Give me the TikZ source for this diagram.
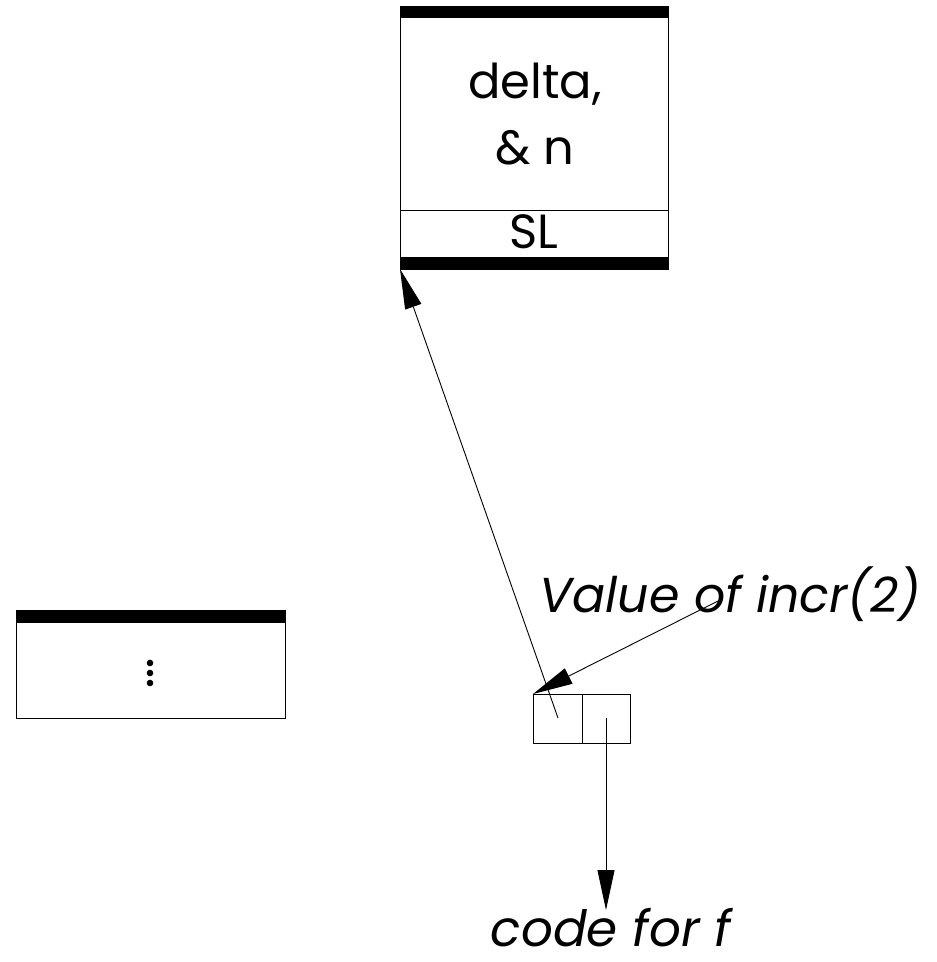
\documentclass[tikz,border=0pt]{standalone}
\usepackage{fontspec}
\setmainfont{Poppins}
\usetikzlibrary{arrows.meta}
\begin{document}
\begin{tikzpicture}[x=1pt,y=-1pt,
  wire/.style={line width=0.9pt},
  cell/.style={draw,wire,inner sep=0pt,outer sep=0pt,anchor=north west},
  ptr/.style={wire,-{Triangle[length=40pt,width=17pt]}},
  big/.style={font=\fontsize{48}{56}\selectfont,inner sep=0pt,anchor=base},
  note/.style={font=\itshape\fontsize{49}{56}\selectfont,inner sep=0pt,anchor=base}]
\useasboundingbox (0,0) rectangle (937,962);

% activation frame holding delta and n
\node[cell,minimum width=268pt,minimum height=263pt] (frame) at (400,6) {};
\fill (400,6) rectangle (668,18);
\fill (400,257) rectangle (668,269);
\draw[wire] (400,210) -- (668,210);
\node[big] (vdelta) at (535,98) {delta,};
\node[big] (vn) at (535,164) {\& n};
\node[big] (vsl) at (534,248) {SL};

% caller's frame
\node[cell,minimum width=269pt,minimum height=108pt] (stack) at (16,610) {};
\fill (16,610) rectangle (285,623);
\foreach \y in {663,673,683} \fill (150,\y) circle (3.3);

% closure pair
\node[cell,minimum width=49pt,minimum height=49pt] (env) at (533,694) {};
\node[cell,minimum width=48pt,minimum height=49pt] (code) at (582,694) {};

% labels
\node[note] (value) at (730,612) {Value of incr(2)};
\node[note,font=\itshape\fontsize{50}{56}\selectfont] (codef) at (611,946) {code for f};

% pointers
\coordinate (envsrc) at (558,718);
\coordinate (valsrc) at (720,600);
\coordinate (codesrc) at (606,718);
\coordinate (codetip) at (606,910);
\draw[ptr] (envsrc) -- (frame.south west);
\draw[ptr] (valsrc) -- (env.north west);
\draw[ptr] (codesrc) -- (codetip);
\end{tikzpicture}
\end{document}
